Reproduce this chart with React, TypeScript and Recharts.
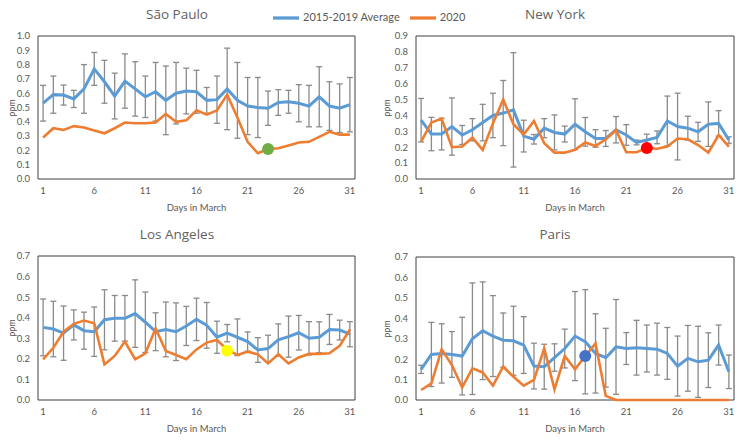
import { LineChart, Line, XAxis, YAxis, ErrorBar, ReferenceArea, ReferenceDot, Legend } from 'recharts';

const days = [1, 2, 3, 4, 5, 6, 7, 8, 9, 10, 11, 12, 13, 14, 15, 16, 17, 18, 19, 20, 21, 22, 23, 24, 25, 26, 27, 28, 29, 30, 31];
const dayTicks = [1, 6, 11, 16, 21, 26, 31];

// São Paulo
const spAvg = [0.53, 0.59, 0.587, 0.56, 0.63, 0.77, 0.68, 0.58, 0.685, 0.63, 0.575, 0.61, 0.55, 0.6, 0.615, 0.61, 0.55, 0.555, 0.63, 0.55, 0.51, 0.5, 0.495, 0.535, 0.54, 0.53, 0.51, 0.575, 0.51, 0.495, 0.52];
const spErr = [0.125, 0.13, 0.07, 0.06, 0.17, 0.115, 0.15, 0.16, 0.19, 0.19, 0.145, 0.205, 0.24, 0.215, 0.16, 0.15, 0.09, 0.165, 0.285, 0.265, 0.2, 0.21, 0.12, 0.09, 0.08, 0.13, 0.145, 0.21, 0.17, 0.17, 0.19];
const sp2020 = [0.29, 0.355, 0.343, 0.37, 0.36, 0.34, 0.32, 0.355, 0.395, 0.39, 0.39, 0.395, 0.455, 0.4, 0.41, 0.48, 0.45, 0.48, 0.59, 0.43, 0.26, 0.18, 0.21, 0.215, 0.235, 0.255, 0.26, 0.295, 0.33, 0.31, 0.31];
const spTicks = [0, 0.1, 0.2, 0.3, 0.4, 0.5, 0.6, 0.7, 0.8, 0.9, 1.0];

// New York
const nyAvg = [0.37, 0.283, 0.283, 0.33, 0.277, 0.31, 0.355, 0.4, 0.415, 0.435, 0.27, 0.25, 0.32, 0.293, 0.283, 0.345, 0.297, 0.255, 0.255, 0.31, 0.277, 0.23, 0.245, 0.262, 0.365, 0.33, 0.32, 0.297, 0.345, 0.35, 0.245];
const nyErr = [0.137, 0.105, 0.1, 0.18, 0.06, 0.07, 0.115, 0.14, 0.205, 0.36, 0.1, 0.03, 0.06, 0.11, 0.05, 0.16, 0.09, 0.055, 0.05, 0.083, 0.065, 0.015, 0.037, 0.04, 0.157, 0.21, 0.075, 0.06, 0.14, 0.08, 0.02];
const ny2020 = [0.235, 0.355, 0.38, 0.2, 0.204, 0.26, 0.183, 0.35, 0.5, 0.345, 0.28, 0.365, 0.225, 0.166, 0.166, 0.183, 0.23, 0.208, 0.25, 0.307, 0.168, 0.168, 0.195, 0.19, 0.204, 0.255, 0.25, 0.214, 0.166, 0.277, 0.204];
const nyTicks = [0, 0.1, 0.2, 0.3, 0.4, 0.5, 0.6, 0.7, 0.8, 0.9];

// Los Angeles
const laAvg = [0.353, 0.345, 0.325, 0.365, 0.337, 0.332, 0.39, 0.397, 0.397, 0.42, 0.378, 0.332, 0.343, 0.332, 0.36, 0.392, 0.363, 0.305, 0.325, 0.305, 0.284, 0.243, 0.25, 0.292, 0.308, 0.327, 0.3, 0.305, 0.343, 0.34, 0.32];
const laErr = [0.138, 0.135, 0.132, 0.073, 0.09, 0.12, 0.146, 0.111, 0.111, 0.164, 0.147, 0.092, 0.133, 0.14, 0.095, 0.103, 0.111, 0.078, 0.042, 0.089, 0.047, 0.06, 0.065, 0.078, 0.1, 0.084, 0.081, 0.075, 0.073, 0.048, 0.061];
const la2020 = [0.198, 0.254, 0.332, 0.37, 0.386, 0.373, 0.173, 0.214, 0.284, 0.198, 0.227, 0.348, 0.238, 0.219, 0.198, 0.246, 0.279, 0.292, 0.245, 0.219, 0.235, 0.222, 0.178, 0.222, 0.178, 0.207, 0.224, 0.224, 0.227, 0.263, 0.343];
const laTicks = [0, 0.1, 0.2, 0.3, 0.4, 0.5, 0.6, 0.7];

// Paris
const parisAvg = [0.15, 0.223, 0.228, 0.223, 0.215, 0.3, 0.339, 0.313, 0.293, 0.29, 0.269, 0.166, 0.163, 0.208, 0.252, 0.313, 0.285, 0.228, 0.207, 0.26, 0.252, 0.256, 0.252, 0.249, 0.228, 0.166, 0.204, 0.187, 0.195, 0.269, 0.138];
const parisErr = [0.02, 0.157, 0.145, 0.112, 0.19, 0.273, 0.239, 0.198, 0.133, 0.169, 0.139, 0.112, 0.11, 0.067, 0.095, 0.218, 0.255, 0.194, 0.144, 0.232, 0.078, 0.134, 0.115, 0.127, 0.127, 0.147, 0.161, 0.174, 0.134, 0.098, 0.082];
const paris2020 = [0.049, 0.081, 0.248, 0.171, 0.062, 0.155, 0.135, 0.07, 0.163, 0.114, 0.07, 0.098, 0.252, 0.052, 0.215, 0.15, 0.215, 0.277, 0.02, 0, 0, 0, 0, 0, 0, 0, 0, 0, 0, 0, 0];
const parisTicks = [0, 0.1, 0.2, 0.3, 0.4, 0.5, 0.6, 0.7];

// highlighted days
const spMark = { day: 23, value: 0.21, color: '#70AD47' };
const nyMark = { day: 23, value: 0.195, color: '#FF0000' };
const laMark = { day: 19, value: 0.24, color: '#FFFF00' };
const parisMark = { day: 17, value: 0.215, color: '#4472C4' };

const BLUE = '#5B9BD5';
const ORANGE = '#ED7D31';
const GREY = '#595959';

type Mark = { day: number; value: number; color: string };

function rows(avg: number[], err: number[], y2020: number[]) {
  return days.map((day, i) => ({ day, avg: avg[i], err: err[i], y2020: y2020[i] }));
}

type PanelProps = {
  left: number;
  top: number;
  title: string;
  titleX: number;
  data: ReturnType<typeof rows>;
  yTicks: number[];
  yWidth: number;
  marginTop: number;
  marginRight: number;
  marginBottom: number;
  ppmX: number;
  mark: Mark;
  legend?: boolean;
};

function Panel(p: PanelProps) {
  const yMax = p.yTicks[p.yTicks.length - 1];
  const plotTop = p.marginTop;
  const plotH = 220 - p.marginTop - p.marginBottom - 32;
  return (
    <div style={{ position: 'absolute', left: p.left, top: p.top, width: 372, height: 220 }}>
      <div
        style={{
          position: 'absolute',
          left: p.titleX - 80,
          width: 160,
          top: 5,
          textAlign: 'center',
          fontSize: 13.5,
          fontFamily: '"Open Sans", Lato, sans-serif',
          color: '#626262',
          zIndex: 2,
        }}
      >
        {p.title}
      </div>
      <div
        style={{
          position: 'absolute',
          left: p.ppmX - 20,
          top: plotTop + plotH / 2 - 7,
          width: 40,
          height: 14,
          lineHeight: '14px',
          textAlign: 'center',
          fontSize: 9,
          color: GREY,
          transform: 'rotate(-90deg)',
          zIndex: 2,
        }}
      >
        ppm
      </div>
      <LineChart
        width={372}
        height={220}
        data={p.data}
        margin={{ top: p.marginTop, right: p.marginRight, left: 0, bottom: p.marginBottom }}
      >
        <XAxis
          type="number"
          dataKey="day"
          domain={[0.5, 31.5]}
          ticks={dayTicks}
          interval={0}
          allowDataOverflow
          axisLine={false}
          tickLine={false}
          height={32}
          tick={{ fill: GREY, fontSize: 9.5 }}
          label={{ value: 'Days in March', position: 'insideBottom', offset: 0, fill: GREY, fontSize: 9.5 }}
        />
        <YAxis
          type="number"
          domain={[0, yMax]}
          ticks={p.yTicks}
          interval={0}
          width={p.yWidth}
          axisLine={false}
          tickLine={false}
          tick={{ fill: GREY, fontSize: 9.5 }}
          tickFormatter={(v: number) => v.toFixed(1)}
        />
        <ReferenceArea x1={0.5} x2={31.5} y1={0} y2={yMax} fill="none" stroke="#404040" strokeWidth={1} ifOverflow="visible" />
        <Line
          dataKey="avg"
          stroke="none"
          dot={false}
          activeDot={false}
          legendType="none"
          isAnimationActive={false}
        >
          <ErrorBar dataKey="err" direction="y" width={3} stroke="#8a8a8a" strokeWidth={1.3} isAnimationActive={false} />
        </Line>
        <Line
          name="2015-2019 Average"
          dataKey="avg"
          type="linear"
          stroke={BLUE}
          strokeWidth={3}
          dot={false}
          activeDot={false}
          legendType="plainline"
          isAnimationActive={false}
        />
        <Line
          name="2020"
          dataKey="y2020"
          type="linear"
          stroke={ORANGE}
          strokeWidth={2.6}
          dot={false}
          activeDot={false}
          legendType="plainline"
          isAnimationActive={false}
        />
        <ReferenceDot x={p.mark.day} y={p.mark.value} r={6} fill={p.mark.color} stroke="none" ifOverflow="visible" />
        {p.legend && (
          <Legend
            layout="horizontal"
            align="center"
            verticalAlign="middle"
            iconSize={26}
            wrapperStyle={{ top: 5, left: 273, width: 196, height: 18, margin: 0, fontSize: 11, whiteSpace: 'nowrap' }}
            formatter={(value: string) => <span style={{ color: GREY }}>{value}</span>}
          />
        )}
      </LineChart>
    </div>
  );
}

export default function App() {
  return (
    <div
      style={{
        position: 'absolute',
        left: 0,
        top: 0,
        width: 744,
        height: 440,
        background: '#ffffff',
        fontFamily: 'Lato, "Open Sans", sans-serif',
        overflow: 'hidden',
      }}
    >
      <Panel left={0} top={0} title="São Paulo" titleX={177} data={rows(spAvg, spErr, sp2020)} yTicks={spTicks} yWidth={38} marginTop={36} marginRight={17} marginBottom={9} ppmX={12} mark={spMark} legend />
      <Panel left={372} top={0} title="New York" titleX={183} data={rows(nyAvg, nyErr, ny2020)} yTicks={nyTicks} yWidth={44} marginTop={36} marginRight={10} marginBottom={9} ppmX={15} mark={nyMark} />
      <Panel left={0} top={220} title="Los Angeles" titleX={177} data={rows(laAvg, laErr, la2020)} yTicks={laTicks} yWidth={38} marginTop={36} marginRight={17} marginBottom={8} ppmX={12} mark={laMark} />
      <Panel left={372} top={220} title="Paris" titleX={183} data={rows(parisAvg, parisErr, paris2020)} yTicks={parisTicks} yWidth={44} marginTop={37} marginRight={10} marginBottom={8} ppmX={15} mark={parisMark} />
    </div>
  );
}
